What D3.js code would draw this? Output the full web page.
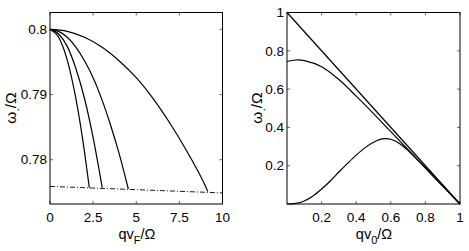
<!DOCTYPE html>
<html>
<head>
<meta charset="utf-8">
<script src="https://cdn.jsdelivr.net/npm/d3@7"></script>
<style>
body{margin:0;background:#fff;}
svg{display:block;font-family:"Liberation Sans",Arial,sans-serif;}
</style>
</head>
<body>
<svg id="chart" width="469" height="251"></svg>
<script>
// left panel: omega_- vs qv_F
var leftXTicks=[0,2.5,5,7.5,10];
var leftYTicks=[0.78,0.79,0.8];
var curveA_q=[0,0.5,1.0,1.5,2.0,2.28];
var curveA_w=[0.8,0.7988,0.7953,0.7894,0.7812,0.7757];
var curveB_q=[0,0.5,1.0,1.5,2.0,2.5,3.03];
var curveB_w=[0.8,0.7993,0.7974,0.7940,0.7894,0.7834,0.7757];
var curveC_q=[0,0.5,1,1.5,2,2.5,3,3.5,4,4.54];
var curveC_w=[0.8,0.7997,0.7988,0.7973,0.7952,0.7926,0.7893,0.7854,0.7810,0.7755];
var curveD_q=[0,1,2,3,4,5,6,7,8,9,9.15];
var curveD_w=[0.8,0.7997,0.7988,0.7973,0.7952,0.7926,0.7893,0.7854,0.7810,0.7760,0.7751];
var limit_q=[0,10];
var limit_w=[0.7759,0.7749];

// right panel: omega_+ vs qv_0
var rightXTicks=[0.2,0.4,0.6,0.8,1];
var rightYTicks=[0.2,0.4,0.6,0.8,1];
var line1_q=[0,1];
var line1_w=[1,0];
var curve2_q=[0,0.05,0.1,0.2,0.3,0.4,0.5,0.6,0.7,0.8,0.9,1];
var curve2_w=[0.744,0.752,0.749,0.717,0.65,0.563,0.472,0.378,0.284,0.19,0.095,0];
var curve3_q=[0,0.05,0.1,0.15,0.2,0.25,0.3,0.35,0.4,0.45,0.5,0.55,0.6,0.65,0.7,0.8,0.9,1];
var curve3_w=[0,0.003,0.016,0.042,0.078,0.12,0.167,0.212,0.255,0.293,0.322,0.340,0.338,0.316,0.279,0.187,0.093,0];

var svg=d3.select("#chart");
var plotTop=12.5, plotBottom=204;

function zip(q,w){ return q.map((d,i)=>[d,w[i]]); }

function panel(x0,x1,xdom,ydom,xticks,yticks,fmtY){
  var x=d3.scaleLinear().domain(xdom).range([x0,x1]);
  var y=d3.scaleLinear().domain(ydom).range([plotBottom,plotTop]);
  var g=svg.append("g");
  // ticks on all four sides, pointing inside
  var tl=3;
  g.selectAll(".xt").data(xticks).join("g").each(function(d){
    var s=d3.select(this);
    s.append("line").attr("x1",x(d)).attr("x2",x(d)).attr("y1",plotBottom).attr("y2",plotBottom-tl).attr("stroke","#444").attr("stroke-width",0.8);
    s.append("line").attr("x1",x(d)).attr("x2",x(d)).attr("y1",plotTop).attr("y2",plotTop+tl).attr("stroke","#444").attr("stroke-width",0.8);
    s.append("text").attr("x",x(d)).attr("y",plotBottom+18).attr("text-anchor","middle").style("font-size","13.5px").text(d);
  });
  g.selectAll(".yt").data(yticks).join("g").each(function(d){
    var s=d3.select(this);
    s.append("line").attr("x1",x0).attr("x2",x0+tl).attr("y1",y(d)).attr("y2",y(d)).attr("stroke","#444").attr("stroke-width",0.8);
    s.append("line").attr("x1",x1).attr("x2",x1-tl).attr("y1",y(d)).attr("y2",y(d)).attr("stroke","#444").attr("stroke-width",0.8);
    s.append("text").attr("x",x0-3).attr("y",y(d)).attr("dy","0.35em").attr("text-anchor","end").style("font-size","13.5px").text(fmtY(d));
  });
  g.append("rect").attr("x",x0).attr("y",plotTop).attr("width",x1-x0).attr("height",plotBottom-plotTop)
    .attr("fill","none").attr("stroke","#000").attr("stroke-width",1);
  return {x:x,y:y,g:g};
}

var L=panel(50,222.5,[0,10],[0.7732,0.8026],leftXTicks,leftYTicks,d=>d===0.8?"0.8":d3.format(".2f")(d));
var R=panel(287,460,[0,1],[0,1],rightXTicks,rightYTicks,d=>String(+d.toFixed(1)));

function draw(P,data,dash,curve){
  var line=d3.line().x(d=>P.x(d[0])).y(d=>P.y(d[1])).curve(curve||d3.curveMonotoneX);
  P.g.append("path").datum(data).attr("d",line).attr("fill","none").attr("stroke","#000")
    .attr("stroke-width",dash?0.9:1.2).attr("stroke-dasharray",dash||null);
}
draw(L,zip(limit_q,limit_w),"5,2,1,2",d3.curveLinear);
draw(L,zip(curveA_q,curveA_w));
draw(L,zip(curveB_q,curveB_w));
draw(L,zip(curveC_q,curveC_w));
draw(L,zip(curveD_q,curveD_w));
draw(R,zip(line1_q,line1_w),null,d3.curveLinear);
draw(R,zip(curve2_q,curve2_w),null,d3.curveCatmullRom);
draw(R,zip(curve3_q,curve3_w),null,d3.curveCatmullRom);

// axis titles
function xtitle(cx,sub){
  var t=svg.append("text").attr("x",cx).attr("y",239).attr("text-anchor","middle").style("font-size","14.5px");
  t.append("tspan").text("qv");
  t.append("tspan").attr("dy",5).style("font-size","11px").text(sub);
  t.append("tspan").attr("dy",-5).text("/Ω");
}
xtitle(137,"F");
xtitle(374,"0");
function ytitle(cx,cy){
  var t=svg.append("text").attr("transform","translate("+cx+","+cy+") rotate(-90)").attr("text-anchor","middle").style("font-size","15.5px");
  t.append("tspan").text("ω");
  t.append("tspan").attr("dy",3).style("font-size","12px").text(".");
  t.append("tspan").attr("dy",-3).text("/Ω");
}
ytitle(16,108);
ytitle(262,108);
</script>
</body>
</html>
